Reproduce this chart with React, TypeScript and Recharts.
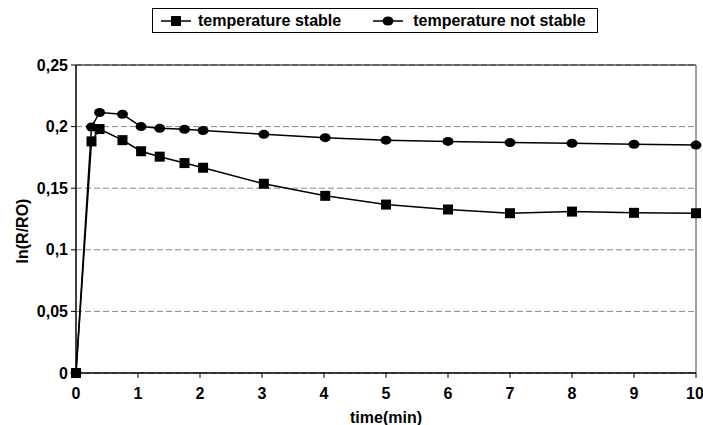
import { CartesianGrid, Line, LineChart, ReferenceLine, XAxis, YAxis, Label } from "recharts";

const timeStable = [0, 0.25, 0.38, 0.75, 1.05, 1.35, 1.75, 2.05, 3.03, 4.02, 5, 6, 7, 8, 9, 10];
const lnStable = [0, 0.188, 0.198, 0.189, 0.18, 0.1756, 0.1704, 0.1666, 0.1536, 0.1438, 0.1367, 0.1327, 0.1297, 0.131, 0.13, 0.1297];
const lnNotStable = [0, 0.1997, 0.2114, 0.21, 0.2, 0.1986, 0.1978, 0.1968, 0.1937, 0.191, 0.189, 0.188, 0.187, 0.1865, 0.1857, 0.185];
const xTicks = [0, 1, 2, 3, 4, 5, 6, 7, 8, 9, 10];
const yTicks = [0, 0.05, 0.1, 0.15, 0.2, 0.25];

const data = timeStable.map((t, i) => ({ t, stable: lnStable[i], notStable: lnNotStable[i] }));

const font = "'Liberation Sans', Arial, sans-serif";
const tickStyle = { fontSize: 16, fontWeight: 700, fill: "#000", fontFamily: font };

function SquareDot({ cx, cy }: { cx?: number; cy?: number }) {
  if (cx == null || cy == null) return null;
  return <rect x={cx - 5} y={cy - 5} width={10} height={10} fill="#000" />;
}

function RoundDot({ cx, cy }: { cx?: number; cy?: number }) {
  if (cx == null || cy == null) return null;
  return <ellipse cx={cx} cy={cy} rx={5.5} ry={4.5} fill="#000" />;
}

function LegendIcon({ marker }: { marker: "square" | "circle" }) {
  return (
    <svg width={30} height={12} style={{ display: "block" }}>
      <line x1={0} y1={6} x2={30} y2={6} stroke="#000" strokeWidth={1.5} />
      {marker === "square" ? (
        <rect x={10} y={1} width={10} height={10} fill="#000" />
      ) : (
        <ellipse cx={15} cy={6} rx={5.5} ry={4.5} fill="#000" />
      )}
    </svg>
  );
}

function LegendBox() {
  return (
    <div
      style={{
        position: "absolute",
        left: 152,
        top: 8,
        width: 446,
        height: 25,
        border: "1px solid #000",
        boxSizing: "border-box",
        display: "flex",
        alignItems: "center",
        paddingLeft: 8,
        fontFamily: font,
        fontWeight: 700,
        fontSize: 16,
        color: "#000",
        whiteSpace: "nowrap",
      }}
    >
      <LegendIcon marker="square" />
      <span style={{ marginLeft: 7 }}>temperature stable</span>
      <span style={{ marginLeft: 32 }}>
        <LegendIcon marker="circle" />
      </span>
      <span style={{ marginLeft: 10 }}>temperature not stable</span>
    </div>
  );
}

function YLabel({ viewBox }: { viewBox?: { x: number; y: number; width: number; height: number } }) {
  if (!viewBox) return null;
  const x = 22;
  const y = viewBox.y + viewBox.height / 2 + 12;
  return (
    <text
      x={x}
      y={y}
      transform={`rotate(-90 ${x} ${y})`}
      textAnchor="middle"
      dominantBaseline="central"
      style={tickStyle}
    >
      ln(R/RO)
    </text>
  );
}

export default function App() {
  return (
    <div style={{ position: "absolute", left: 0, top: 0, width: 703, height: 425, background: "#fff" }}>
      <LineChart width={703} height={425} data={data} margin={{ top: 65, right: 7, left: 26, bottom: 0 }}>
        <CartesianGrid horizontal vertical={false} stroke="#888" strokeDasharray="6 3" />
        <XAxis
          dataKey="t"
          type="number"
          domain={[0, 10]}
          ticks={xTicks}
          tick={tickStyle}
          tickLine={{ stroke: "#000" }}
          tickSize={5}
          tickMargin={10}
          axisLine={{ stroke: "#000", strokeWidth: 1.5 }}
          height={52}
        >
          <Label value="time(min)" position="insideBottom" offset={2} style={tickStyle} />
        </XAxis>
        <YAxis
          type="number"
          domain={[0, 0.25]}
          ticks={yTicks}
          tick={tickStyle}
          tickFormatter={(v: number) => String(v).replace(".", ",")}
          tickLine={{ stroke: "#000" }}
          tickSize={5}
          tickMargin={3}
          axisLine={{ stroke: "#000", strokeWidth: 1.5 }}
          width={50}
        >
          <Label content={<YLabel />} />
        </YAxis>
        <ReferenceLine y={0.25} stroke="#000" strokeWidth={1.2} />
        <ReferenceLine x={10} stroke="#444" strokeWidth={1} />
        <Line dataKey="stable" stroke="#000" strokeWidth={1.5} dot={<SquareDot />} isAnimationActive={false} />
        <Line dataKey="notStable" stroke="#000" strokeWidth={1.5} dot={<RoundDot />} isAnimationActive={false} />
      </LineChart>
      <LegendBox />
    </div>
  );
}
